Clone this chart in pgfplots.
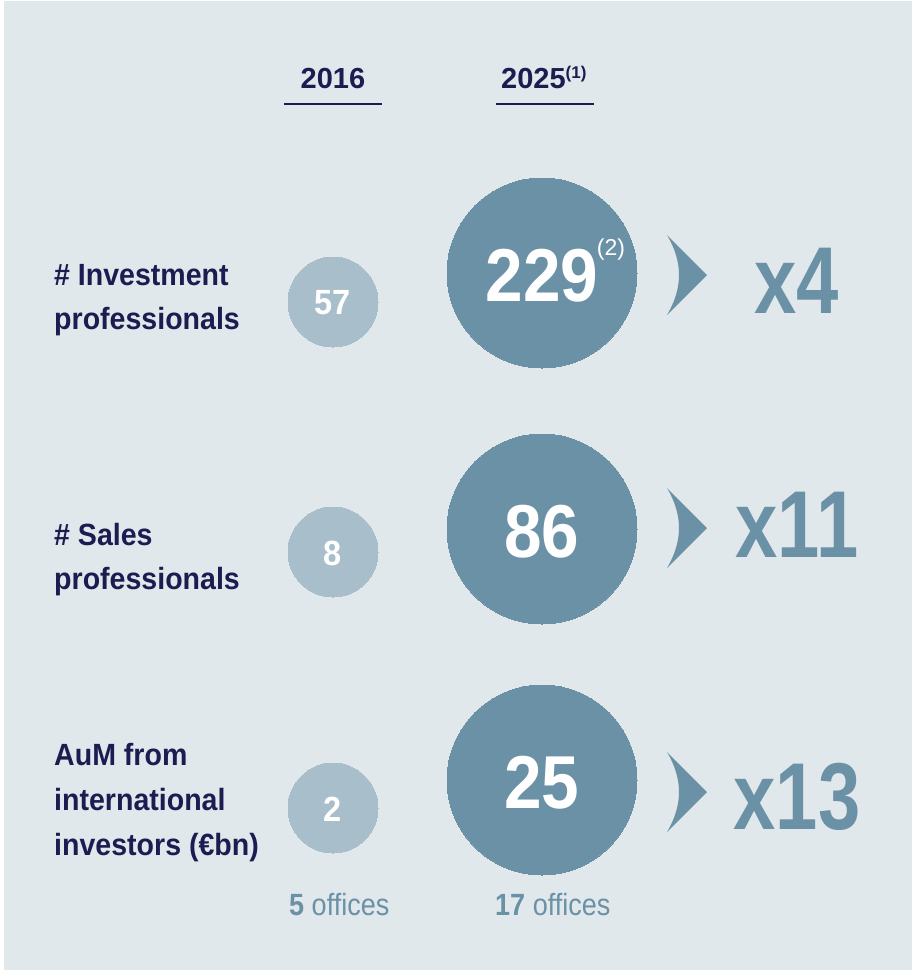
\documentclass[border=0pt]{standalone}
\usepackage{fontspec}
\setmainfont{Liberation Sans}
\newfontfamily\labfont[FakeStretch=0.93]{Liberation Sans}
\newfontfamily\hdrfont{Liberation Sans}
\newfontfamily\bignum[FakeStretch=0.9]{Liberation Sans}
\newfontfamily\smallnum[FakeStretch=0.93]{Liberation Sans}
\newfontfamily\multfont[FakeStretch=0.8]{Liberation Sans}
\newfontfamily\offfont[FakeStretch=0.88]{Liberation Sans}
\usepackage{pgfplots}
\usepackage{pgfplotstable}
\pgfplotsset{compat=1.18}

\definecolor{bgcol}{HTML}{E1E8EC}
\definecolor{darkcirc}{HTML}{6B91A6}
\definecolor{lightcirc}{HTML}{A8BECB}
\definecolor{navy}{HTML}{1C1C50}

% circle centres in picture pixels (y from top), value shown inside
\pgfplotstableread{
x   y   label
333 302 57
333 552 8
333 808 2
}\earlier
\pgfplotstableread{
x   y   label
542 273 229
542 529 86
542 780 25
}\later

\begin{document}
\begin{tikzpicture}
\begin{axis}[
    width=912pt, height=970pt, scale only axis,
    xmin=0, xmax=912, ymin=0, ymax=970,
    y dir=reverse,
    hide axis, clip=false,
    point meta=explicit symbolic,
    nodes near coords,
    nodes near coords align={center},
]
% canvas
\fill[white] (axis cs:0,0) rectangle (axis cs:912,970);
\fill[bgcol] (axis cs:4,1) rectangle (axis cs:912,970);

% column headers
\node[anchor=base, inner sep=0pt, text=navy, font=\hdrfont\bfseries\fontsize{29}{29}\selectfont] at (axis cs:333,88) {2016};
\node[anchor=base west, inner sep=0pt, text=navy, font=\hdrfont\bfseries\fontsize{29}{29}\selectfont] at (axis cs:501,88)
    {2025\raisebox{9.5pt}{\fontsize{17}{17}\selectfont(1)}};
\draw[navy, line width=1.2pt] (axis cs:284,104) -- (axis cs:382,104);
\draw[navy, line width=1.2pt] (axis cs:496,104) -- (axis cs:594,104);

% row labels
\begin{scope}[every node/.style={anchor=base west, inner sep=0pt, text=navy,
    font=\labfont\bfseries\fontsize{30.7}{30.7}\selectfont}]
\node at (axis cs:54,285) {\# Investment};
\node at (axis cs:54,329) {professionals};
\node at (axis cs:54,545) {\# Sales};
\node at (axis cs:54,589) {professionals};
\node at (axis cs:54,765) {AuM from};
\node at (axis cs:54,810) {international};
\node at (axis cs:54,855) {investors (€bn)};
\end{scope}

% 2016 circles
\addplot[only marks, mark=*, mark size=45,
    mark options={draw=lightcirc, line width=0pt, fill=lightcirc},
    every node near coord/.append style={text=white, inner sep=0pt, yshift=-1pt,
        font=\smallnum\bfseries\fontsize{35}{35}\selectfont}]
    table[x=x, y=y, meta=label] {\earlier};

% 2025 circles
\addplot[only marks, mark=*, mark size=95,
    mark options={draw=darkcirc, line width=0pt, fill=darkcirc},
    every node near coord/.append style={text=white, inner sep=0pt, yshift=-3pt,
        font=\bignum\bfseries\fontsize{75}{75}\selectfont}]
    table[x=x, y=y, meta=label] {\later};

% footnote mark on 229
\addplot[draw=none, mark=none,
    every node near coord/.append style={text=white, inner sep=0pt,
        font=\hdrfont\fontsize{23}{23}\selectfont}]
    coordinates {(611,250) [(2)]};

% chevrons
\fill[darkcirc] (axis cs:667,235) -- (axis cs:707,275) -- (axis cs:667,315)
    .. controls (axis cs:683,288) and (axis cs:683,262) .. cycle;
\fill[darkcirc] (axis cs:667,488) -- (axis cs:707,528) -- (axis cs:667,568)
    .. controls (axis cs:683,541) and (axis cs:683,515) .. cycle;
\fill[darkcirc] (axis cs:667,752) -- (axis cs:707,792) -- (axis cs:667,832)
    .. controls (axis cs:683,805) and (axis cs:683,779) .. cycle;

% growth multiples
\begin{scope}[every node/.style={anchor=base, inner sep=0pt, text=darkcirc,
    font=\multfont\bfseries\fontsize{95}{95}\selectfont}]
\node at (axis cs:797,313) {x4};
\node at (axis cs:797,557) {x11};
\node at (axis cs:797,829) {x13};
\end{scope}

% office counts
\node[anchor=base west, inner sep=0pt, text=darkcirc, font=\offfont\fontsize{30.7}{30.7}\selectfont] at (axis cs:289,915) {\textbf{5} offices};
\node[anchor=base west, inner sep=0pt, text=darkcirc, font=\offfont\fontsize{30.7}{30.7}\selectfont] at (axis cs:495,915) {\textbf{17} offices};
\end{axis}
\end{tikzpicture}
\end{document}
